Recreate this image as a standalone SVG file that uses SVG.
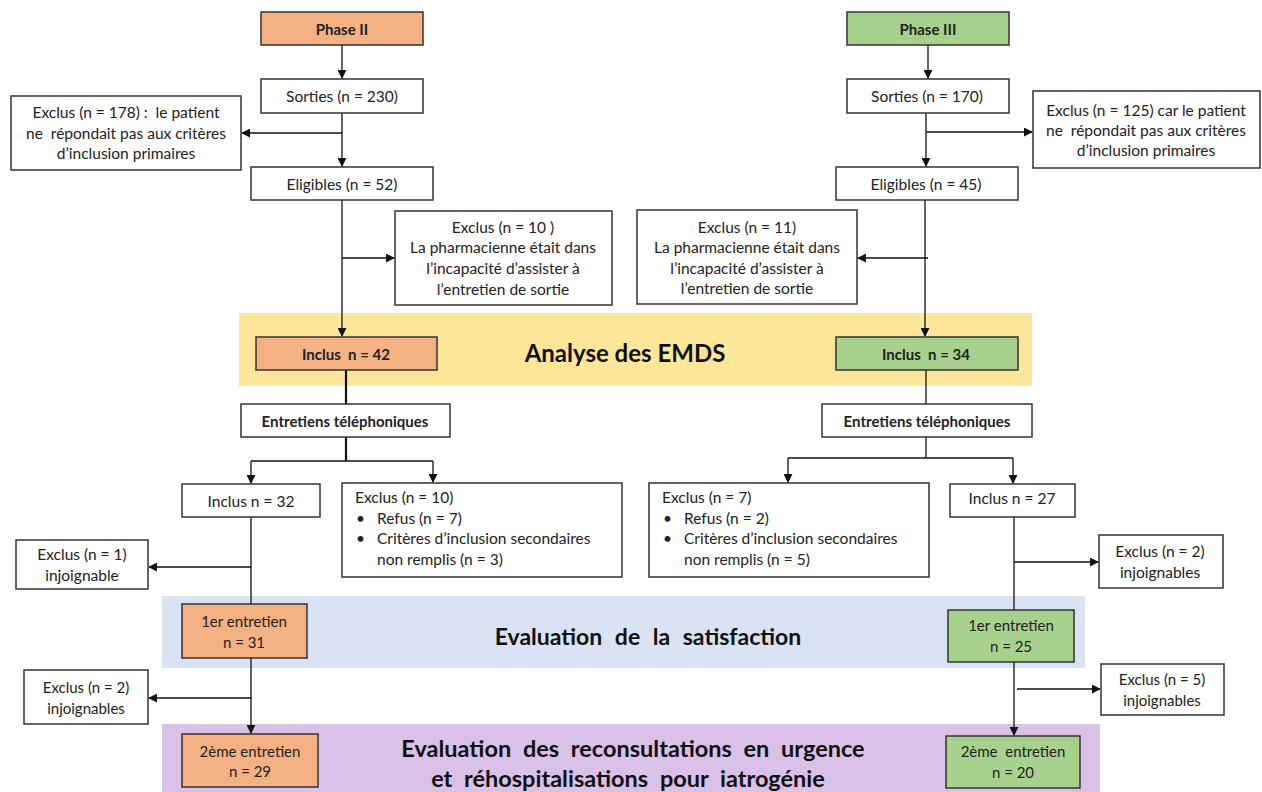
<svg xmlns="http://www.w3.org/2000/svg" width="1262" height="792" viewBox="0 0 1262 792">
<style>
text{font-family:Lato,"Liberation Sans",sans-serif;fill:#222;text-anchor:middle;dominant-baseline:central}
.t{font-size:15.5px}
.s{font-size:15px}
.b{font-size:15px;font-weight:bold}
.big{font-weight:bold;fill:#111}
.box{fill:#fff;stroke:#333;stroke-width:1.5}
.or{fill:#F4B183;stroke:#333;stroke-width:1.5}
.gr{fill:#A9D18E;stroke:#333;stroke-width:1.5}
.l{stroke:#111;stroke-width:1.3;fill:none}
.lt{stroke:#111;stroke-width:2.2;fill:none}
.lft{text-anchor:start}
</style>
<defs>
<marker id="a" viewBox="0 0 10 10" refX="9" refY="5" markerWidth="9" markerHeight="9" markerUnits="userSpaceOnUse" orient="auto">
<path d="M0,0 L10,5 L0,10 z" fill="#111"/>
</marker>
</defs>
<g id="bands">
<rect x="239" y="313" width="793" height="73" fill="#FFE699"/>
<rect x="162" y="596" width="923" height="72" fill="#DAE3F3"/>
<rect x="162" y="724" width="938" height="68" fill="#D9C1E8"/>
<text x="625" y="352" class="big" font-size="24">Analyse des EMDS</text>
<text x="648" y="636" class="big" font-size="23" word-spacing="7">Evaluation de la satisfaction</text>
<text x="633" y="748" class="big" font-size="23.5" word-spacing="6">Evaluation des reconsultations en urgence</text>
<text x="628" y="778" class="big" font-size="23.5" word-spacing="6">et réhospitalisations pour iatrogénie</text>
</g>
<g id="connectors">
<path class="l" d="M342,45 V78" marker-end="url(#a)"/>
<path class="l" d="M342,113 V166" marker-end="url(#a)"/>
<path class="l" d="M342,133 H242" marker-end="url(#a)"/>
<path class="l" d="M342,200 V336" marker-end="url(#a)"/>
<path class="l" d="M342,258 H394" marker-end="url(#a)"/>
<path class="lt" d="M346,370 V404"/>
<path class="lt" d="M346,437 V461"/>
<path class="l" d="M251,461 H433"/>
<path class="l" d="M251,461 V483" marker-end="url(#a)"/>
<path class="l" d="M433,461 V482" marker-end="url(#a)"/>
<path class="l" d="M251,517 V604"/>
<path class="l" d="M251,567 H149" marker-end="url(#a)"/>
<path class="l" d="M251,658 V733" marker-end="url(#a)"/>
<path class="l" d="M251,698 H149" marker-end="url(#a)"/>
<path class="l" d="M928,45 V78" marker-end="url(#a)"/>
<path class="l" d="M926,113 V166" marker-end="url(#a)"/>
<path class="l" d="M926,132 H1032" marker-end="url(#a)"/>
<path class="l" d="M925,200 V336" marker-end="url(#a)"/>
<path class="l" d="M928,258 H858" marker-end="url(#a)"/>
<path class="l" d="M926,370 V404"/>
<path class="l" d="M926,437 V458"/>
<path class="l" d="M788,458 H1013"/>
<path class="l" d="M788,458 V482" marker-end="url(#a)"/>
<path class="l" d="M1013,458 V483" marker-end="url(#a)"/>
<path class="l" d="M1014,517 V610"/>
<path class="l" d="M1014,562 H1098" marker-end="url(#a)"/>
<path class="l" d="M1014,662 V735" marker-end="url(#a)"/>
<path class="l" d="M1017,689 H1100" marker-end="url(#a)"/>
</g>
<g id="phase2"><rect x="261" y="12" width="162" height="33" class="or"/><text x="342" y="28.5" class="b">Phase II</text></g>
<g id="sorties2"><rect x="261" y="79" width="162" height="34" class="box"/><text x="342" y="96" class="t">Sorties (n = 230)</text></g>
<g id="exclus178"><rect x="11" y="96" width="230" height="74" class="box"/>
<text x="126" y="112" class="t" xml:space="preserve">Exclus (n = 178) :  le patient</text>
<text x="126" y="133" class="t" xml:space="preserve">ne  répondait pas aux critères</text>
<text x="126" y="153" class="t">d’inclusion primaires</text></g>
<g id="eligibles2"><rect x="251" y="167" width="182" height="33" class="box"/><text x="342" y="183.5" class="t">Eligibles (n = 52)</text></g>
<g id="exclus10a"><rect x="395" y="211" width="217" height="94" class="box"/>
<text x="503" y="227" class="t">Exclus (n = 10 )</text>
<text x="503" y="247" class="t">La pharmacienne était dans</text>
<text x="503" y="268" class="t">l’incapacité d’assister à</text>
<text x="503" y="289" class="t">l’entretien de sortie</text></g>
<g id="inclus42"><rect x="256" y="337" width="181" height="33" class="or"/><text x="346" y="353.5" class="b" xml:space="preserve">Inclus  n = 42</text></g>
<g id="tel2"><rect x="241" y="404" width="209" height="33" class="box"/><text x="345" y="420.5" class="b" font-size="16.5">Entretiens téléphoniques</text></g>
<g id="inclus32"><rect x="182" y="484" width="138" height="33" class="box"/><text x="251" y="500.5" class="t">Inclus n = 32</text></g>
<g id="exclus10b"><rect x="342" y="483" width="280" height="94" class="box"/>
<text x="355" y="497" class="t lft">Exclus (n = 10)</text>
<text x="356" y="518" class="t lft">•</text><text x="377" y="518" class="t lft">Refus (n = 7)</text>
<text x="356" y="538" class="t lft">•</text><text x="377" y="538" class="t lft">Critères d’inclusion secondaires</text>
<text x="377" y="559" class="t lft">non remplis (n = 3)</text></g>
<g id="exclus1"><rect x="16" y="540" width="132" height="49" class="box"/>
<text x="82" y="554" class="t">Exclus (n = 1)</text><text x="82" y="575" class="t">injoignable</text></g>
<g id="entretien1a"><rect x="182" y="604" width="125" height="54" class="or"/>
<text x="244" y="621" class="s">1er entretien</text><text x="244" y="642" class="s">n = 31</text></g>
<g id="exclus2a"><rect x="24" y="670" width="124" height="54" class="box"/>
<text x="86" y="687" class="s">Exclus (n = 2)</text><text x="86" y="708" class="s">injoignables</text></g>
<g id="entretien2a"><rect x="182" y="734" width="136" height="53" class="or"/>
<text x="250" y="751" class="s">2ème entretien</text><text x="250" y="771" class="s">n = 29</text></g>
<g id="phase3"><rect x="847" y="12" width="162" height="33" class="gr"/><text x="928" y="28.5" class="b">Phase III</text></g>
<g id="sorties3"><rect x="847" y="79" width="162" height="34" class="box"/><text x="927" y="96" class="t">Sorties (n = 170)</text></g>
<g id="exclus125"><rect x="1033" y="91" width="227" height="77" class="box"/>
<text x="1146" y="110" class="t">Exclus (n = 125) car le patient</text>
<text x="1146" y="130" class="t" xml:space="preserve">ne  répondait pas aux critères</text>
<text x="1146" y="150" class="t">d’inclusion primaires</text></g>
<g id="eligibles3"><rect x="836" y="167" width="182" height="33" class="box"/><text x="926" y="183.5" class="t">Eligibles (n = 45)</text></g>
<g id="exclus11"><rect x="637" y="210" width="220" height="94" class="box"/>
<text x="747" y="227" class="t">Exclus (n = 11)</text>
<text x="747" y="247" class="t">La pharmacienne était dans</text>
<text x="747" y="268" class="t">l’incapacité d’assister à</text>
<text x="747" y="288" class="t">l’entretien de sortie</text></g>
<g id="inclus34"><rect x="836" y="337" width="182" height="33" class="gr"/><text x="926" y="353.5" class="b" xml:space="preserve">Inclus  n = 34</text></g>
<g id="tel3"><rect x="822" y="404" width="210" height="33" class="box"/><text x="927" y="420.5" class="b" font-size="16.5">Entretiens téléphoniques</text></g>
<g id="exclus7"><rect x="649" y="483" width="280" height="94" class="box"/>
<text x="662" y="497" class="t lft">Exclus (n = 7)</text>
<text x="663" y="518" class="t lft">•</text><text x="684" y="518" class="t lft">Refus (n = 2)</text>
<text x="663" y="538" class="t lft">•</text><text x="684" y="538" class="t lft">Critères d’inclusion secondaires</text>
<text x="684" y="559" class="t lft">non remplis (n = 5)</text></g>
<g id="inclus27"><rect x="950" y="484" width="125" height="33" class="box"/><text x="1012" y="497.5" class="t">Inclus n = 27</text></g>
<g id="exclus2b"><rect x="1099" y="535" width="124" height="53" class="box"/>
<text x="1160" y="551" class="t">Exclus (n = 2)</text><text x="1160" y="572" class="t">injoignables</text></g>
<g id="entretien1b"><rect x="948" y="610" width="126" height="52" class="gr"/>
<text x="1011" y="625" class="s">1er entretien</text><text x="1011" y="646" class="s">n = 25</text></g>
<g id="exclus5"><rect x="1101" y="664" width="123" height="51" class="box"/>
<text x="1162" y="679" class="s">Exclus (n = 5)</text><text x="1162" y="700" class="s">injoignables</text></g>
<g id="entretien2b"><rect x="946" y="736" width="134" height="52" class="gr"/>
<text x="1013" y="751" class="s" xml:space="preserve">2ème  entretien</text><text x="1013" y="772" class="s">n = 20</text></g>
</svg>
